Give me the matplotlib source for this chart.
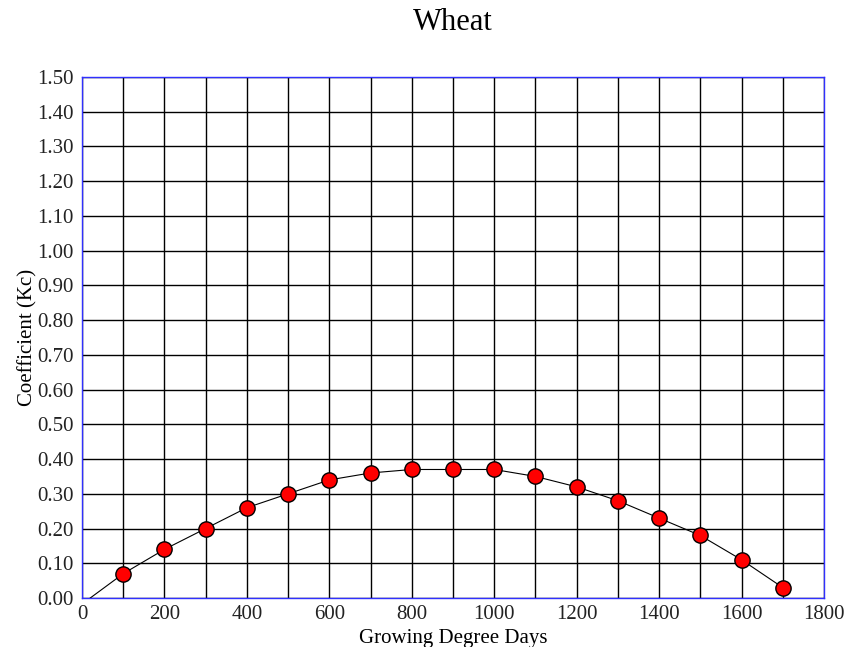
import matplotlib.pyplot as plt
import numpy as np

plt.rcParams['font.family'] = ['Liberation Serif', 'DejaVu Serif']

gdd = [100, 200, 300, 400, 500, 600, 700, 800, 900, 1000,
       1100, 1200, 1300, 1400, 1500, 1600, 1700]
kc = [0.07, 0.14, 0.20, 0.26, 0.30, 0.34, 0.36, 0.37, 0.37, 0.37,
      0.35, 0.32, 0.28, 0.23, 0.18, 0.11, 0.03]
# curve starts at the x axis a little before the first point
line_x = [20] + gdd
line_y = [0.0] + kc

fig = plt.figure(figsize=(8.47, 6.47), dpi=100)
ax = fig.add_axes([82 / 847, 1 - 598 / 647, (824 - 82) / 847, (598 - 77) / 647])

ax.plot(line_x, line_y, color='black', lw=0.8, zorder=3)
ax.plot(gdd, kc, 'o', ms=11, mfc='#ff0000', mec='black', mew=1.0, zorder=4)

ax.set_xlim(0, 1800)
ax.set_ylim(0, 1.5)
ax.set_xticks(np.arange(0, 1801, 200))
ax.set_xticks(np.arange(0, 1801, 100), minor=True)
ax.set_yticks(np.arange(0, 1.501, 0.1))
ax.set_yticklabels([f'{v:.2f}' for v in np.arange(0, 1.501, 0.1)])
ax.tick_params(which='both', length=0, labelsize=15, colors='#222222')
ax.tick_params(axis='x', pad=5)
ax.tick_params(axis='y', pad=6)
ax.grid(which='both', color='black', lw=1.0)
ax.set_axisbelow(True)
for s in ax.spines.values():
    s.set_color('#3030ff')
    s.set_linewidth(1.0)

ax.set_xlabel('Growing Degree Days', fontsize=15, labelpad=4)
ax.set_ylabel('Coefficient (Kc)', fontsize=15, labelpad=0)
fig.text((82 + 824) / 2 / 847, 1 - 23 / 647, 'Wheat', ha='center', va='center', fontsize=22)

fig.savefig('out.png', dpi=100)
